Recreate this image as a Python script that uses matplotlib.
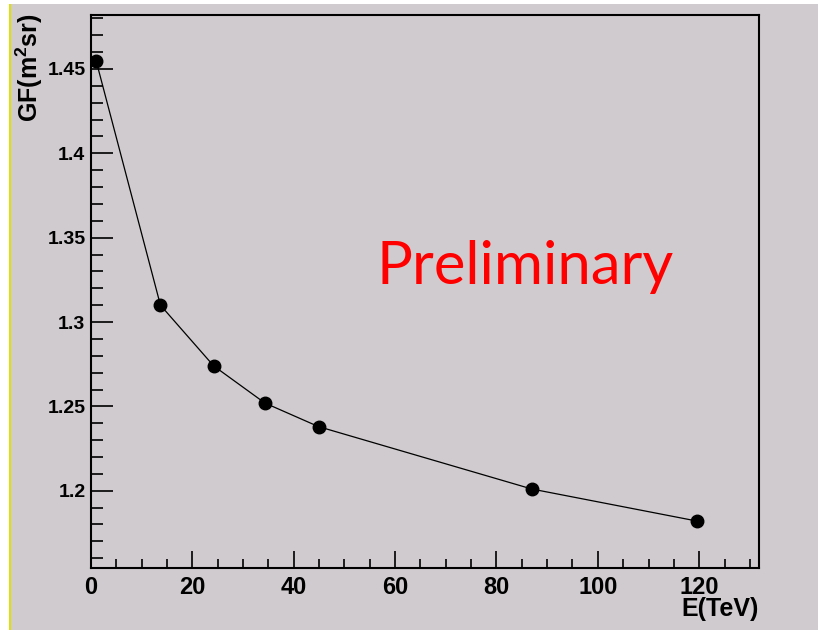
import matplotlib
matplotlib.use("Agg")
import matplotlib.pyplot as plt
from matplotlib.patches import Rectangle
from matplotlib.ticker import MultipleLocator

# energy (TeV) vs geometric factor (m^2 sr)
energy = [1.0, 13.7, 24.2, 34.3, 44.9, 87.0, 119.6]
gf = [1.455, 1.310, 1.274, 1.252, 1.238, 1.201, 1.182]
ytick_vals = [1.2, 1.25, 1.3, 1.35, 1.4, 1.45]
ytick_labels = ["1.2", "1.25", "1.3", "1.35", "1.4", "1.45"]

bg = "#cfcbce"

plt.rcParams["mathtext.fontset"] = "custom"
plt.rcParams["mathtext.bf"] = "Liberation Sans:bold"
plt.rcParams["mathtext.rm"] = "Liberation Sans:bold"

fig = plt.figure(figsize=(8.18, 6.3), dpi=100, facecolor="white")
# grey pad with yellow edge on the left
fig.patches.append(Rectangle((11 / 818, 0), 1, 1 - 4 / 630, transform=fig.transFigure,
                             facecolor=bg, edgecolor="none", zorder=-2))
fig.patches.append(Rectangle((9 / 818, 0), 2 / 818, 1 - 4 / 630, transform=fig.transFigure,
                             facecolor="#e0e000", edgecolor="none", zorder=-1))

ax = fig.add_axes([91 / 818, 62 / 630, 668 / 818, 553 / 630])
ax.set_facecolor(bg)

ax.plot(energy, gf, color="black", lw=0.9, marker="o", ms=9, mfc="black", mec="black")

ax.set_xlim(0, 131.8)
ax.set_ylim(1.1542, 1.482)
ax.xaxis.set_major_locator(MultipleLocator(20))
ax.xaxis.set_minor_locator(MultipleLocator(5))
ax.yaxis.set_minor_locator(MultipleLocator(0.01))
ax.set_yticks(ytick_vals)
ax.set_yticklabels(ytick_labels)

ax.tick_params(axis="x", which="major", direction="in", length=12, width=1.2,
               labelsize=17, pad=6)
ax.tick_params(axis="x", which="minor", direction="in", length=6.5, width=1.2)
ax.tick_params(axis="y", which="major", direction="in", length=16, width=1.2,
               labelsize=14, pad=4)
ax.tick_params(axis="y", which="minor", direction="in", length=8.5, width=1.2)
for lab in ax.get_xticklabels() + ax.get_yticklabels():
    lab.set_fontfamily("Liberation Sans")
    lab.set_fontweight("bold")

for s in ax.spines.values():
    s.set_linewidth(1.5)
    s.set_color("black")

fig.text(29 / 818, 1 - 13 / 630, r"GF(m$^{2}$sr)", rotation=90, ha="center", va="top",
         fontsize=18, fontweight="bold", family="Liberation Sans")
fig.text(759 / 818, 1 - 609 / 630, "E(TeV)", ha="right", va="center",
         fontsize=18, fontweight="bold", family="Liberation Sans")

fig.text(376 / 818, 1 - 284 / 630, "Preliminary", color="red", fontsize=43,
         family="Lato", ha="left", va="baseline")

fig.savefig("out.png", dpi=100, facecolor="white")
